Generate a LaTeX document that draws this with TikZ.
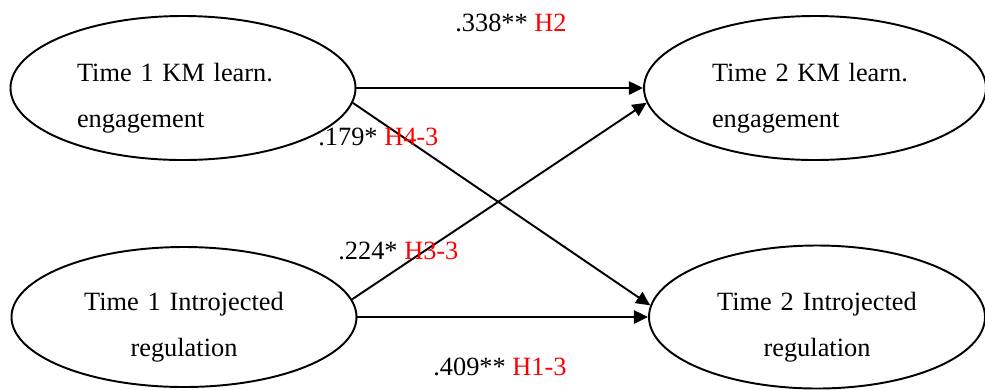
\documentclass[tikz,border=0pt]{standalone}
\usepackage{fontspec}
\setmainfont{Liberation Serif}
\usetikzlibrary{arrows.meta, positioning, shapes.geometric}
\definecolor{hypred}{RGB}{255,0,0}
\tikzset{
  latent/.style = {ellipse, draw, line width=1.1pt, inner sep=0pt,
                   minimum width=6.9cm, minimum height=2.88cm,
                   font=\fontsize{15}{26}\selectfont,
                   execute at begin node={\rule{0pt}{22pt}}},
  arrow/.style  = {-{Triangle[length=8pt, width=7.5pt]}, line width=1.1pt},
}

\begin{document}
\begin{tikzpicture}[
    coef/.style={anchor=base west, inner sep=0pt, font=\fontsize{15}{18}\selectfont},
    hyp/.style={text=hypred}
]
\useasboundingbox (0,0) rectangle (19.7,-7.78);

\node[latent, text width=4.24cm, align=left] (t1km) at (3.66,-1.76) {Time 1 KM learn.\\engagement};
\node[latent, text width=4.12cm, align=left, minimum width=6.84cm] (t2km) at (16.30,-1.76) {Time 2 KM learn.\\engagement};
\node[latent, text width=4.4cm, align=center, minimum height=2.8cm] (t1ir) at (3.68,-6.34) {Time 1 Introjected\\regulation};
\node[latent, text width=4.4cm, align=center, minimum width=6.72cm, minimum height=2.86cm] (t2ir) at (16.34,-6.34) {Time 2 Introjected\\regulation};

\draw[arrow] (t1km.east) -- (t2km.west);
\draw[arrow] (t1km.-5) -- (t2ir.176);
\draw[arrow] (t1ir.6) -- (t2km.185);
\draw[arrow] (t1ir.east) -- (t2ir.west);

\node[coef] (c338) at (9.1,-0.62) {.338** \textcolor{hypred}{H2}};
\node[coef] (c179) at (6.36,-2.9) {.179* \textcolor{hypred}{H4-3}};
\node[coef] (c224) at (6.76,-5.18) {.224* \textcolor{hypred}{H3-3}};
\node[coef] (c409) at (8.66,-7.5) {.409** \textcolor{hypred}{H1-3}};

\end{tikzpicture}
\end{document}
